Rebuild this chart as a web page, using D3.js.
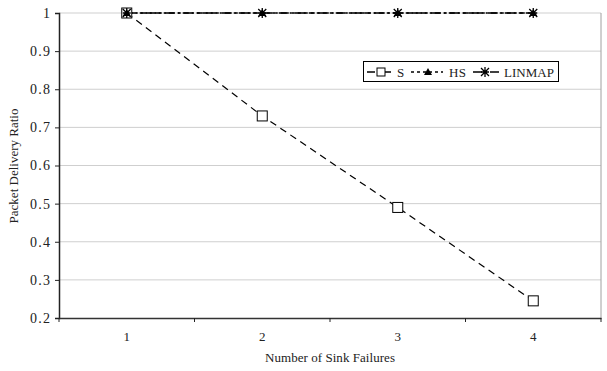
<!DOCTYPE html>
<html><head><meta charset="utf-8">
<script src="https://cdn.jsdelivr.net/npm/d3@7"></script>
<style>body{margin:0;background:#fff}svg{display:block}svg text{font-family:"Liberation Serif","Times New Roman",serif !important;fill:#222 !important}</style>
</head><body>
<svg id="c" width="607" height="371"></svg>
<script>
const categories = [1, 2, 3, 4];
const sValues = [1, 0.73, 0.49, 0.245];
const hsValues = [1, 1, 1, 1];
const linmapValues = [1, 1, 1, 1];
const yTicks = [0.2, 0.3, 0.4, 0.5, 0.6, 0.7, 0.8, 0.9, 1];

const svg = d3.select("#c");
const L = 59, R = 601, T = 13, B = 318;
const x = d3.scaleBand().domain(categories).range([L, R]);
const xc = d => x(d) + x.bandwidth() / 2;
const y = d3.scaleLinear().domain([0.2, 1]).range([B, T]);

// gridlines
svg.append("g").selectAll("line").data(yTicks.slice(1)).join("line")
  .attr("x1", L).attr("x2", R).attr("y1", d => y(d)).attr("y2", d => y(d))
  .attr("stroke", "#cfcfcf").attr("stroke-width", 1);
// right border
svg.append("line").attr("x1", R).attr("x2", R).attr("y1", T).attr("y2", B).attr("stroke", "#a0a0a0");

// y axis
const ya = svg.append("g").attr("transform", `translate(${L},0)`)
  .call(d3.axisLeft(y).tickValues(yTicks).tickSize(4).tickFormat(d => d === 1 ? "1" : d3.format(".1f")(d)));
ya.select(".domain").attr("stroke", "#222").attr("stroke-width", 1.5);
ya.selectAll(".tick line").attr("stroke", "#222");
ya.selectAll(".tick text").attr("font-size", 14).attr("x", -9).attr("textLength", function(d){ return d === 1 ? null : 20; });

// x axis
const xa = svg.append("g").attr("transform", `translate(0,${B})`)
  .call(d3.axisBottom(x).tickSize(0).tickSizeOuter(0));
xa.select(".domain").attr("stroke", "#333").attr("stroke-width", 1.5);
xa.selectAll(".tick text").attr("font-size", 13).attr("dy", "1.5em");
// boundary ticks
const bounds = categories.map(c => x(c)).concat([R]);
svg.append("g").selectAll("line").data(bounds).join("line")
  .attr("x1", d => d).attr("x2", d => d).attr("y1", B).attr("y2", B + 4).attr("stroke", "#222");

// titles
svg.append("text").attr("x", (L + R) / 2).attr("y", 362).attr("text-anchor", "middle").attr("font-size", 13).attr("textLength", 130).text("Number of Sink Failures");
svg.append("text").attr("transform", "translate(18,166) rotate(-90)").attr("text-anchor", "middle").attr("font-size", 13).text("Packet Delivery Ratio");

const line = d3.line().x((d, i) => xc(categories[i])).y(d => y(d));

// S series
svg.append("path").datum(sValues).attr("d", line).attr("fill", "none").attr("stroke", "#000").attr("stroke-width", 1.2).attr("stroke-dasharray", "7,5");
// HS series
svg.append("path").datum(hsValues).attr("d", line).attr("fill", "none").attr("stroke", "#000").attr("stroke-width", 1.5).attr("stroke-dasharray", "6,3,2,3");
// LINMAP series
svg.append("path").datum(linmapValues).attr("d", line).attr("fill", "none").attr("stroke", "#000").attr("stroke-width", 1.5).attr("stroke-dasharray", "10,3,3,3");

function square(g, cx, cy, s) {
  s = s || 5;
  g.append("rect").attr("x", cx - s).attr("y", cy - s).attr("width", 2 * s).attr("height", 2 * s).attr("fill", "#fff").attr("stroke", "#000");
}
function tri(g, cx, cy) {
  g.append("path").attr("d", `M${cx},${cy - 4}L${cx + 4},${cy + 3}L${cx - 4},${cy + 3}Z`).attr("fill", "#000");
}
function star(g, cx, cy) {
  const s = 4;
  g.append("path").attr("d", `M${cx - s},${cy - s}L${cx + s},${cy + s}M${cx - s},${cy + s}L${cx + s},${cy - s}M${cx},${cy - s - 1}L${cx},${cy + s + 1}M${cx - s},${cy}L${cx + s},${cy}`)
    .attr("stroke", "#000").attr("stroke-width", 1.3).attr("fill", "none");
}
const mk = svg.append("g");
sValues.forEach((v, i) => square(mk, xc(categories[i]), y(v)));
hsValues.forEach((v, i) => tri(mk, xc(categories[i]), y(v)));
linmapValues.forEach((v, i) => star(mk, xc(categories[i]), y(v)));

// legend
const lg = svg.append("g");
lg.append("rect").attr("x", 363.5).attr("y", 61.5).attr("width", 195).attr("height", 20).attr("fill", "#fff").attr("stroke", "#000");
const ly = 72;
lg.append("line").attr("x1", 367).attr("x2", 393).attr("y1", ly).attr("y2", ly).attr("stroke", "#000").attr("stroke-dasharray", "8,3,2,3").attr("stroke-width", 1.3);
square(lg, 381, ly, 4);
lg.append("text").attr("x", 397).attr("y", ly + 4.5).attr("font-size", 13).text("S");
lg.append("line").attr("x1", 411).attr("x2", 443).attr("y1", ly).attr("y2", ly).attr("stroke", "#000").attr("stroke-dasharray", "3,3").attr("stroke-width", 1.5);
tri(lg, 428, ly);
lg.append("text").attr("x", 449).attr("y", ly + 4.5).attr("font-size", 13).attr("textLength", 17).text("HS");
lg.append("line").attr("x1", 473).attr("x2", 500).attr("y1", ly).attr("y2", ly).attr("stroke", "#000").attr("stroke-dasharray", "9,3,2,3").attr("stroke-width", 1.5);
star(lg, 485, ly);
lg.append("text").attr("x", 504).attr("y", ly + 4.5).attr("font-size", 13).attr("textLength", 50).text("LINMAP");
</script>
</body></html>
